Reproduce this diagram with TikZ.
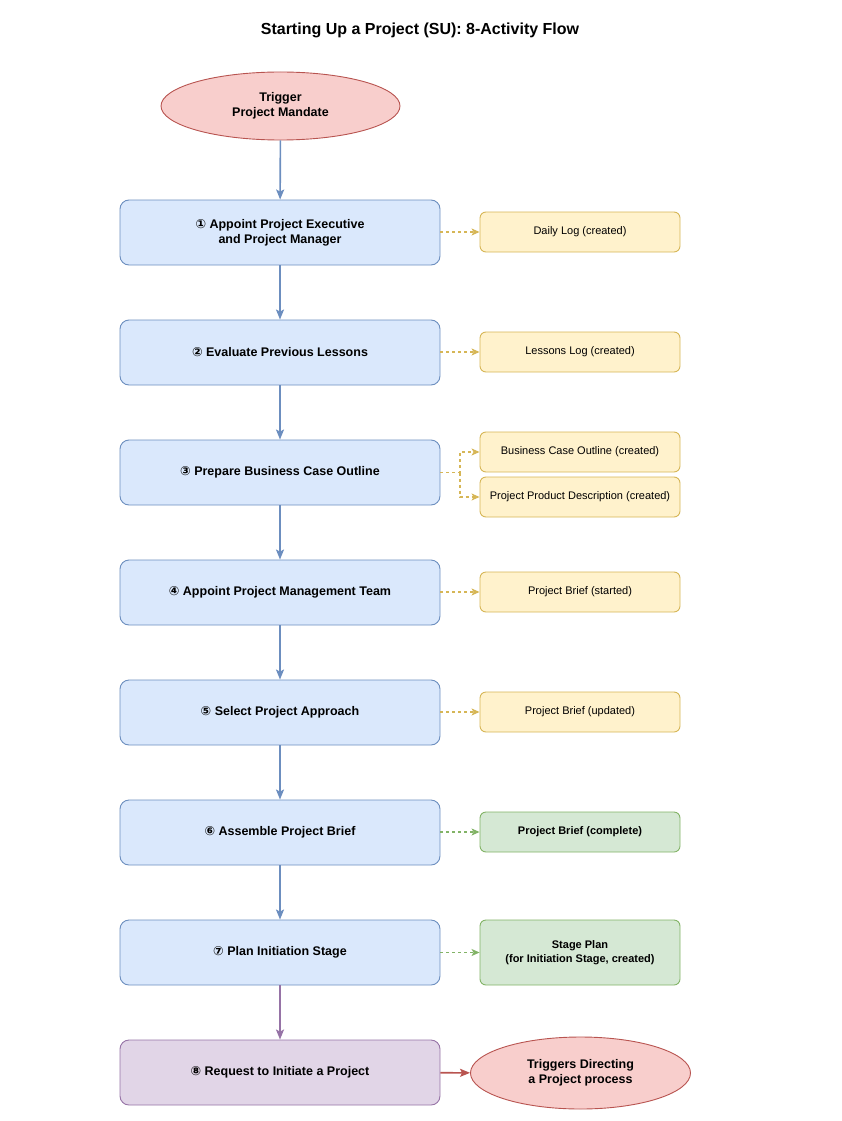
\documentclass[tikz,border=0pt]{standalone}
\usepackage{fontspec}
\setmainfont{Liberation Sans}
\newfontfamily\symfont{DejaVu Sans}
\usetikzlibrary{arrows.meta,shapes.geometric,positioning}
\definecolor{bluef}{HTML}{DAE8FC}\definecolor{blued}{HTML}{6C8EBF}
\definecolor{redf}{HTML}{F8CECC}\definecolor{redd}{HTML}{B85450}
\definecolor{yelf}{HTML}{FFF2CC}\definecolor{yeld}{HTML}{D6B656}
\definecolor{grnf}{HTML}{D5E8D4}\definecolor{grnd}{HTML}{82B366}
\definecolor{purf}{HTML}{E1D5E7}\definecolor{purd}{HTML}{9673A6}
\newcommand{\cn}[1]{{\symfont #1}}
\tikzset{
  mainbox/.style={draw=blued, fill=bluef, rounded corners=9pt, minimum width=320pt, minimum height=65pt, line width=0.9pt, align=center, font=\bfseries\fontsize{12.5}{15}\selectfont, inner sep=0pt},
  sidebox/.style={draw=yeld, fill=yelf, rounded corners=6pt, minimum width=200pt, minimum height=40pt, line width=0.9pt, align=center, font=\fontsize{11}{13.5}\selectfont, inner sep=0pt},
  greenbox/.style={sidebox, draw=grnd, fill=grnf, font=\bfseries\fontsize{11}{13.5}\selectfont},
  oval/.style={ellipse, draw=redd, fill=redf, line width=0.9pt, align=center, font=\bfseries\fontsize{12.5}{15}\selectfont, inner sep=0pt},
  flow/.style={draw=blued, line width=1.6pt, -{Stealth[length=10pt,width=8pt,inset=2pt]}},
  dasharrow/.style={draw=yeld, line width=1.1pt, dash pattern=on 3pt off 3pt, -{Stealth[length=8pt,width=7pt,inset=2pt]}},
}
\begin{document}
\begin{tikzpicture}[x=1pt,y=-1pt]
\useasboundingbox (0,0) rectangle (842,1121);
\node[font=\bfseries\fontsize{16}{19}\selectfont] (title) at (420,30) {Starting Up a Project (SU): 8-Activity Flow};

\node[oval, minimum width=239pt, minimum height=68pt] (trig) at (280.5,106) {Trigger\\Project Mandate};

\node[mainbox] (s1) at (280,232.5) {\cn{①} Appoint Project Executive\\and Project Manager};
\node[mainbox] (s2) at (280,352.5) {\cn{②} Evaluate Previous Lessons};
\node[mainbox] (s3) at (280,472.5) {\cn{③} Prepare Business Case Outline};
\node[mainbox] (s4) at (280,592.5) {\cn{④} Appoint Project Management Team};
\node[mainbox] (s5) at (280,712.5) {\cn{⑤} Select Project Approach};
\node[mainbox] (s6) at (280,832.5) {\cn{⑥} Assemble Project Brief};
\node[mainbox] (s7) at (280,952.5) {\cn{⑦} Plan Initiation Stage};
\node[mainbox, draw=purd, fill=purf] (s8) at (280,1072.5) {\cn{⑧} Request to Initiate a Project};

\node[oval, minimum width=220pt, minimum height=72pt] (dp) at (580.5,1073) {Triggers Directing\\a Project process};

\node[sidebox] (o1) at (580,232) {Daily Log (created)};
\node[sidebox] (o2) at (580,352) {Lessons Log (created)};
\node[sidebox] (o3a) at (580,452) {Business Case Outline (created)};
\node[sidebox] (o3b) at (580,497) {Project Product Description (created)};
\node[sidebox] (o4) at (580,592) {Project Brief (started)};
\node[sidebox] (o5) at (580,712) {Project Brief (updated)};
\node[greenbox] (o6) at (580,832) {Project Brief (complete)};
\node[greenbox, minimum height=65pt] (o7) at (580,952.5) {Stage Plan\\(for Initiation Stage, created)};

\draw[flow] (trig) -- (s1);
\draw[flow] (s1) -- (s2);
\draw[flow] (s2) -- (s3);
\draw[flow] (s3) -- (s4);
\draw[flow] (s4) -- (s5);
\draw[flow] (s5) -- (s6);
\draw[flow] (s6) -- (s7);
\draw[flow, draw=purd] (s7) -- (s8);
\draw[flow, draw=redd] (s8) -- (dp);

\draw[dasharrow] (s1.east |- o1) -- (o1);
\draw[dasharrow] (s2.east |- o2) -- (o2);
\coordinate (br) at (460,472.5);
\draw[dasharrow] (s3.east) -- (br) |- (o3a.west);
\draw[dasharrow] (br) |- (o3b.west);
\draw[dasharrow] (s4.east |- o4) -- (o4);
\draw[dasharrow] (s5.east |- o5) -- (o5);
\draw[dasharrow, draw=grnd] (s6.east |- o6) -- (o6);
\draw[dasharrow, draw=grnd] (s7.east) -- (o7);
\end{tikzpicture}
\end{document}
